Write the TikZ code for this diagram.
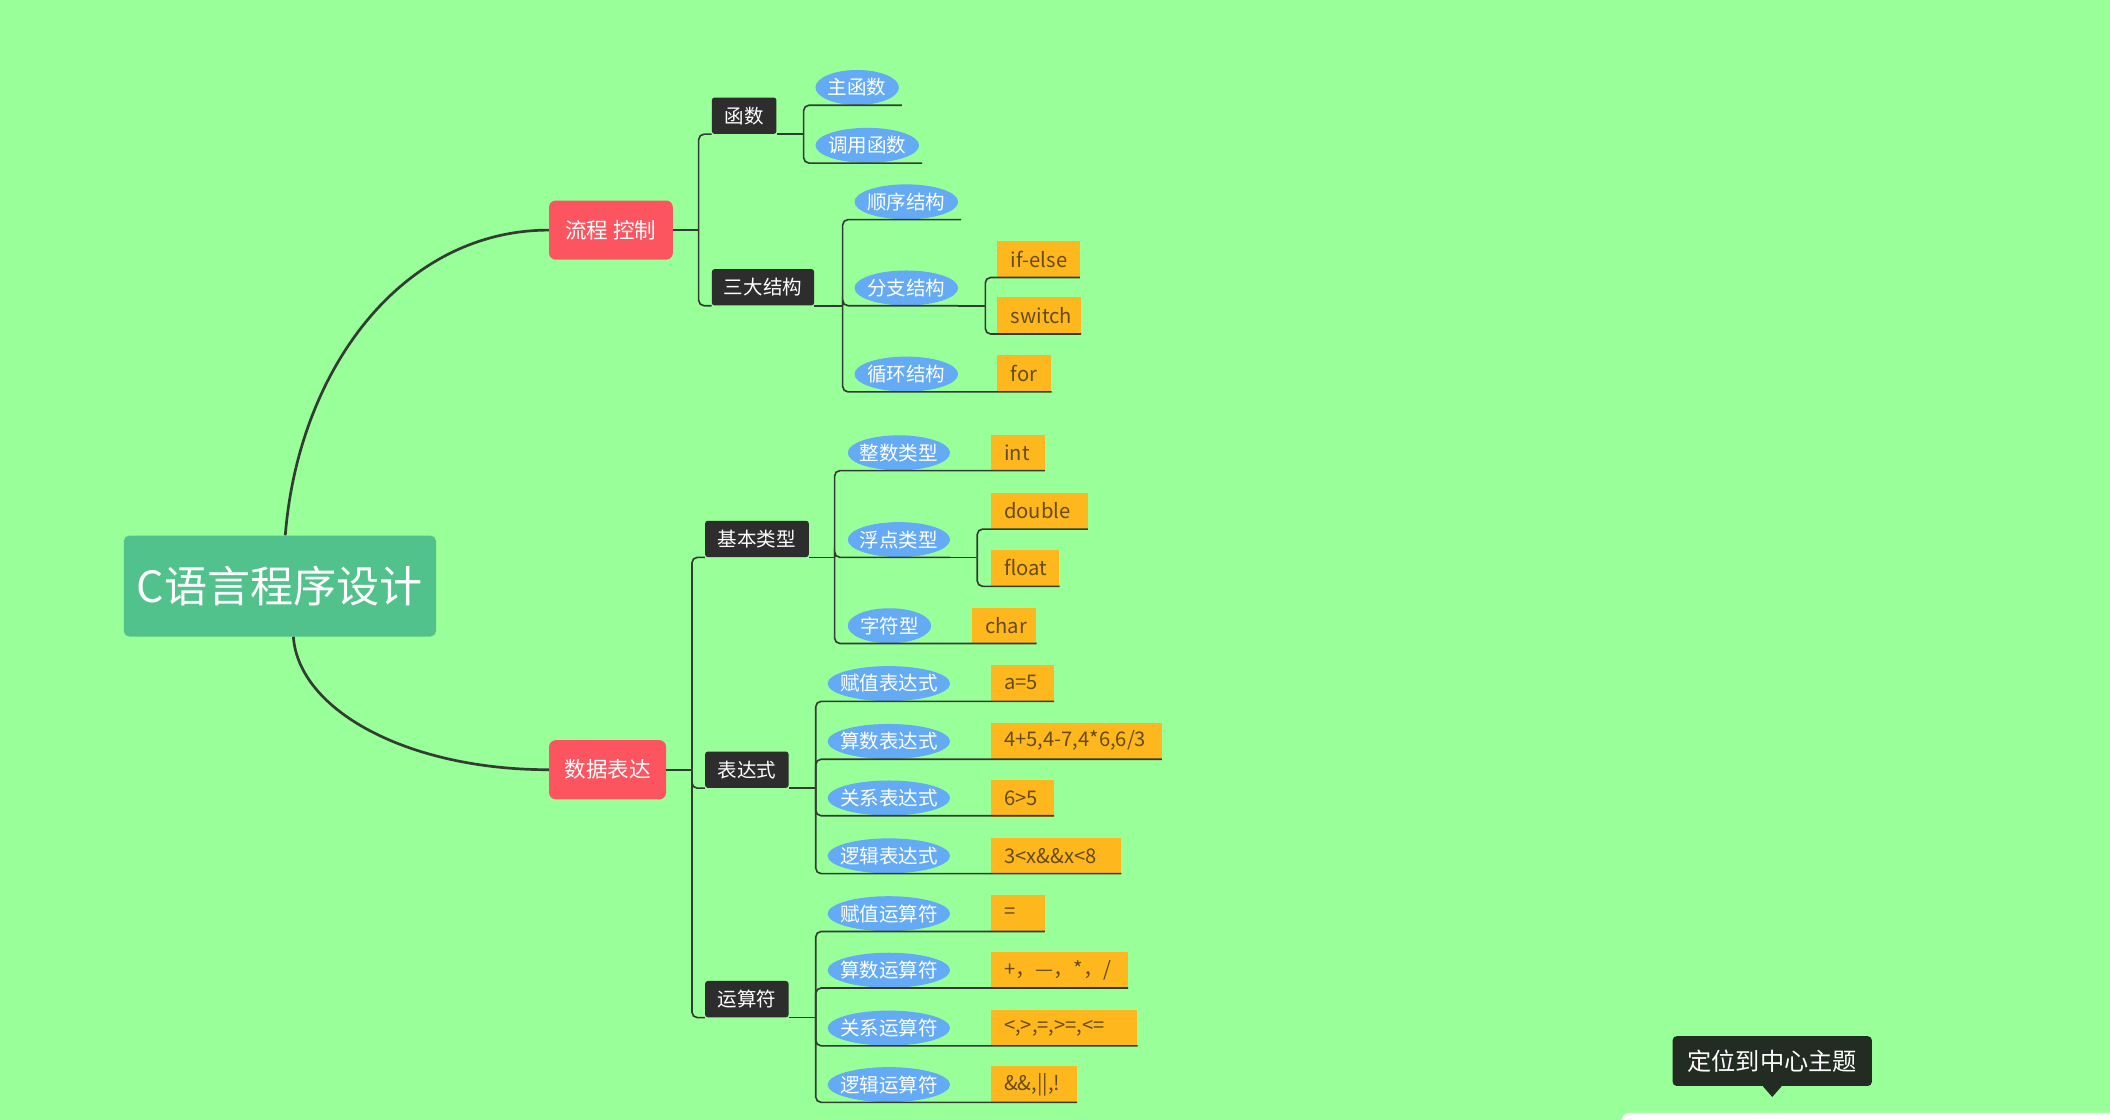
\documentclass[tikz,border=0pt]{standalone}
\usepackage{fontspec}
\setmainfont{Noto Sans CJK SC}
\usetikzlibrary{shapes.geometric}
\definecolor{bgc}{RGB}{153,255,153}
\definecolor{rootc}{RGB}{82,194,140}
\definecolor{redc}{RGB}{252,85,96}
\definecolor{darkc}{RGB}{45,45,45}
\definecolor{bluec}{RGB}{100,170,245}
\definecolor{orangec}{RGB}{255,183,30}
\definecolor{leafc}{RGB}{100,75,25}
\definecolor{treec}{RGB}{50,60,50}
\definecolor{tipc}{RGB}{34,44,34}
\newcommand\ovtext[1]{\makebox[0pt]{#1}}
\newcommand\leaftext[2]{\makebox[#1pt][l]{#2}}
\begin{document}
\begin{tikzpicture}[x=1pt,y=-1pt,
  tree/.style={draw=treec, line width=1.2pt, rounded corners=4pt},
  stub/.style={draw=treec, line width=1.2pt},
  bigcurve/.style={draw=treec, line width=2pt},
  rootbox/.style={fill=rootc, text=white, rounded corners=4pt, minimum width=232pt, minimum height=75pt, inner sep=0pt, font=\fontsize{32}{38}\selectfont},
  mainbox/.style={fill=redc, text=white, rounded corners=5pt, minimum height=44pt, inner sep=0pt, font=\fontsize{16}{19}\selectfont},
  subbox/.style={fill=darkc, text=white, rounded corners=2pt, minimum height=27pt, inner sep=0pt, font=\fontsize{14.5}{17}\selectfont},
  oval/.style={ellipse, fill=bluec, text=white, minimum height=26pt, inner sep=0pt, font=\fontsize{14.5}{17}\selectfont},
  leaf/.style={fill=orangec, text=leafc, minimum height=27pt, inner xsep=10pt, inner ysep=0pt, anchor=west, font=\fontsize{15}{18}\selectfont},
  tipbox/.style={fill=tipc, text=white, rounded corners=3pt, minimum width=148pt, minimum height=37pt, inner sep=0pt, font=\fontsize{18}{21}\selectfont}
]
\fill[bgc] (0,0) rectangle (1568,832);
\useasboundingbox (0,0) rectangle (1568,832);

% root and main branches
\node[rootbox] (root) at (208,435.5) {C语言程序设计};
\node[mainbox, minimum width=92pt] (flow) at (454,171) {流程 控制};
\node[mainbox, minimum width=87pt] (data) at (451.5,572) {数据表达};

\draw[bigcurve] ([xshift=4pt]root.north) .. controls (222,273) and (300,171) .. (flow.west);
\draw[bigcurve] ([xshift=10pt]root.south) .. controls (222,528) and (303,572) .. (data.west);

% upper subtree
\node[subbox, minimum width=48pt] (hs) at (553,86) {函数};
\node[subbox, minimum width=76pt] (sd) at (567,213.5) {三大结构};
\node[oval, minimum width=62pt] (zhs) at (637,65) {\ovtext{主函数}};
\node[oval, minimum width=77pt] (dy) at (644.5,108) {\ovtext{调用函数}};
\node[oval, minimum width=77pt] (sx) at (673.5,150) {\ovtext{顺序结构}};
\node[oval, minimum width=77pt] (fz) at (673.5,214) {\ovtext{分支结构}};
\node[oval, minimum width=77pt] (xh) at (673.5,278) {\ovtext{循环结构}};
\node[leaf] (ifelse) at (741,192.5) {\leaftext{41}{if-else}};
\node[leaf] (switch) at (741,234.5) {\leaftext{42}{switch}};
\node[leaf] (for) at (741,277.5) {\leaftext{20}{for}};

\coordinate (j1) at ([xshift=19pt]flow.east);
\draw[stub] (flow.east) -- (j1);
\draw[tree] (j1) |- (hs.south west);
\draw[tree] (j1) |- (sd.south west);

\coordinate (j2) at ([xshift=20pt]hs.south east);
\draw[stub] (hs.south east) -- (j2);
\draw[tree] (j2) |- ([xshift=2pt]zhs.south -| zhs.east);
\draw[tree] (j2) |- ([xshift=2pt]dy.south -| dy.east);

\coordinate (j3) at ([xshift=21pt]sd.south east);
\draw[stub] (sd.south east) -- (j3);
\draw[tree] (j3) |- ([xshift=2pt]sx.south -| sx.east);
\draw[tree] (j3) |- (fz.south -| fz.east);
\draw[tree] (j3) |- (xh.south -| for.east);

\coordinate (j4) at ([xshift=20pt]fz.south -| fz.east);
\draw[stub] (fz.south -| fz.east) -- (j4);
\draw[tree] (j4) |- (ifelse.south east);
\draw[tree] (j4) |- (switch.south east);

% lower subtree
\node[subbox, minimum width=77pt] (jb) at (562.5,400.5) {基本类型};
\node[subbox, minimum width=62pt] (bds) at (555,572) {表达式};
\node[subbox, minimum width=62pt] (ysf) at (555,742.5) {运算符};

\node[oval, minimum width=76pt] (zs) at (668,336.5) {\ovtext{整数类型}};
\node[oval, minimum width=76pt] (fd) at (668,401) {\ovtext{浮点类型}};
\node[oval, minimum width=62pt] (zf) at (661,465) {\ovtext{字符型}};
\node[leaf] (int) at (736,336.5) {\leaftext{20}{int}};
\node[leaf] (double) at (736,379.5) {\leaftext{52}{double}};
\node[leaf] (float) at (736,422) {\leaftext{31}{float}};
\node[leaf] (char) at (722,465) {\leaftext{28}{char}};

\node[oval, minimum width=91pt] (fzbd) at (660.5,508) {\ovtext{赋值表达式}};
\node[oval, minimum width=91pt] (ssbd) at (660.5,551) {\ovtext{算数表达式}};
\node[oval, minimum width=91pt] (gxbd) at (660.5,593) {\ovtext{关系表达式}};
\node[oval, minimum width=91pt] (ljbd) at (660.5,636) {\ovtext{逻辑表达式}};
\node[leaf] (a5) at (736,507.5) {\leaftext{27}{a=5}};
\node[leaf] (arith) at (736,550.5) {\leaftext{107}{4+5,4-7,4*6,6/3}};
\node[leaf] (rel) at (736,593.5) {\leaftext{27}{6>5}};
\node[leaf] (logic) at (736,636) {\leaftext{77}{3<x\&\&x<8}};

\node[oval, minimum width=91pt] (fyf) at (660.5,679) {\ovtext{赋值运算符}};
\node[oval, minimum width=91pt] (ssf) at (660.5,721) {\ovtext{算数运算符}};
\node[oval, minimum width=91pt] (gxf) at (660.5,764) {\ovtext{关系运算符}};
\node[oval, minimum width=91pt] (ljf) at (660.5,806) {\ovtext{逻辑运算符}};
\node[leaf] (eq) at (736,678.5) {\leaftext{20}{=}};
\node[leaf] (ops) at (736,721) {\leaftext{82}{+，—，*，/}};
\node[leaf] (relops) at (736,764) {\leaftext{89}{<,>,=,>=,<=}};
\node[leaf] (logops) at (736,806) {\leaftext{44}{\&\&,||,!}};

\coordinate (j5) at ([xshift=19pt]data.east);
\draw[stub] (data.east) -- (j5);
\draw[tree] (j5) |- (jb.south west);
\draw[tree] (j5) |- (bds.south west);
\draw[tree] (j5) |- (ysf.south west);

\coordinate (j6) at ([xshift=19pt]jb.south east);
\draw[stub] (jb.south east) -- (j6);
\draw[tree] (j6) |- (zs.south -| int.east);
\draw[tree] (j6) |- (fd.south -| fd.east);
\draw[tree] (j6) |- (zf.south -| char.east);

\coordinate (j7) at ([xshift=20pt]fd.south -| fd.east);
\draw[stub] (fd.south -| fd.east) -- (j7);
\draw[tree] (j7) |- (double.south east);
\draw[tree] (j7) |- (float.south east);

\coordinate (j8) at ([xshift=20pt]bds.south east);
\draw[stub] (bds.south east) -- (j8);
\draw[tree] (j8) |- (fzbd.south -| a5.east);
\draw[tree] (j8) |- (ssbd.south -| arith.east);
\draw[tree] (j8) |- (gxbd.south -| rel.east);
\draw[tree] (j8) |- (ljbd.south -| logic.east);

\coordinate (j9) at ([xshift=20pt]ysf.south east);
\draw[stub] (ysf.south east) -- (j9);
\draw[tree] (j9) |- (fyf.south -| eq.east);
\draw[tree] (j9) |- (ssf.south -| ops.east);
\draw[tree] (j9) |- (gxf.south -| relops.east);
\draw[tree] (j9) |- (ljf.south -| logops.east);

% tooltip
\node[tipbox] (tip) at (1317,788.5) {定位到中心主题};
\fill[tipc] ([xshift=-7pt]tip.south) -- ([xshift=7pt]tip.south) -- ([yshift=-8pt]tip.south) -- cycle;
\begin{scope}
\clip (0,0) rectangle (1568,832);
\fill[white, rounded corners=6pt] (1205,827) rectangle (1600,860);
\end{scope}
\end{tikzpicture}
\end{document}
